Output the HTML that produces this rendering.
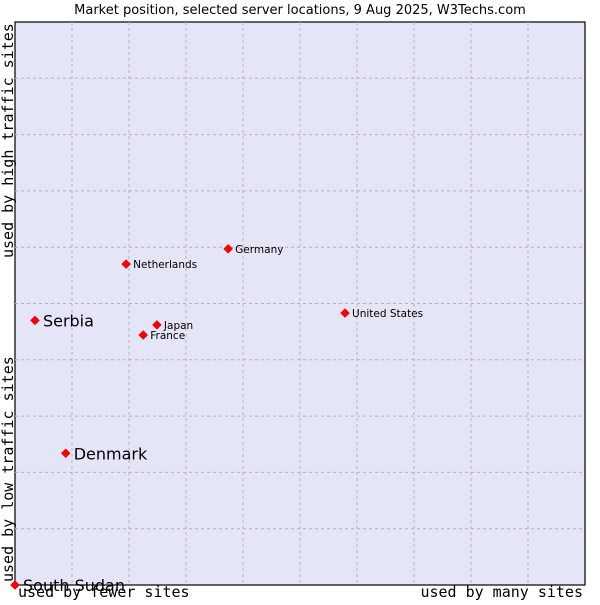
<!DOCTYPE html>
<html><head><meta charset="utf-8"><style>
body{margin:0;background:#fff;width:600px;height:600px;overflow:hidden}
svg text{font-family:"DejaVu Sans","Liberation Sans",sans-serif}
.mono{font-family:"DejaVu Sans Mono","Liberation Mono",monospace}
</style></head><body>
<svg id="c" width="600" height="600">
<text x="300" y="14" text-anchor="middle" font-size="13" fill="#000">Market position, selected server locations, 9 Aug 2025, W3Techs.com</text>
<rect x="15" y="22" width="570" height="563" fill="#e4e5f7" stroke="#000" stroke-width="1.2"/>
<g id="grid"></g>
<g id="pts"></g>
<text class="mono" x="18" y="597" font-size="15">used by fewer sites</text>
<text class="mono" x="583" y="597" font-size="15" text-anchor="end">used by many sites</text>
<text class="mono" transform="translate(13,582) rotate(-90)" font-size="15">used by low traffic sites</text>
<text class="mono" transform="translate(13,258) rotate(-90)" font-size="15">used by high traffic sites</text>
</svg>
<script>
const names=["Serbia","Denmark","South Sudan","Netherlands","Germany","Japan","France","United States"];
const xs=[3.5,8.9,0,19.5,37.4,24.9,22.5,57.9];
const ys=[47,23.4,0,57.0,59.7,46.2,44.4,48.3];
const big=[true,true,true,false,false,false,false,false];
const X=v=>15+v*5.7, Y=v=>585-v*5.63;
const NS="http://www.w3.org/2000/svg";
const g=document.getElementById('grid'), p=document.getElementById('pts');
for(let i=1;i<10;i++){
 let l=document.createElementNS(NS,'line');
 l.setAttribute('x1',X(i*10));l.setAttribute('x2',X(i*10));l.setAttribute('y1',22);l.setAttribute('y2',585);
 l.setAttribute('stroke','#b4b4b4');l.setAttribute('stroke-dasharray','3,3');
 
 
 g.appendChild(l);
 let h=document.createElementNS(NS,'line');
 h.setAttribute('y1',Y(i*10));h.setAttribute('y2',Y(i*10));h.setAttribute('x1',15);h.setAttribute('x2',585);
 h.setAttribute('stroke','#b4b4b4');h.setAttribute('stroke-dasharray','3,3');
 
 
 g.appendChild(h);
}
names.forEach((n,i)=>{
 const cx=X(xs[i]),cy=Y(ys[i]);
 let d=document.createElementNS(NS,'path');
 d.setAttribute('d',`M${cx} ${cy-4.5}L${cx+4.5} ${cy}L${cx} ${cy+4.5}L${cx-4.5} ${cy}Z`);
 d.setAttribute('fill','#f00');d.setAttribute('stroke','#c00');d.setAttribute('stroke-width','0.5');
 
 
 p.appendChild(d);
 let t=document.createElementNS(NS,'text');
 t.setAttribute('x',cx+(big[i]?8:7));t.setAttribute('y',cy+(big[i]?6:4));
 t.setAttribute('font-size',big[i]?16:10.5);
 t.textContent=n;
 
 
 p.appendChild(t);
});
</script>
</body></html>
